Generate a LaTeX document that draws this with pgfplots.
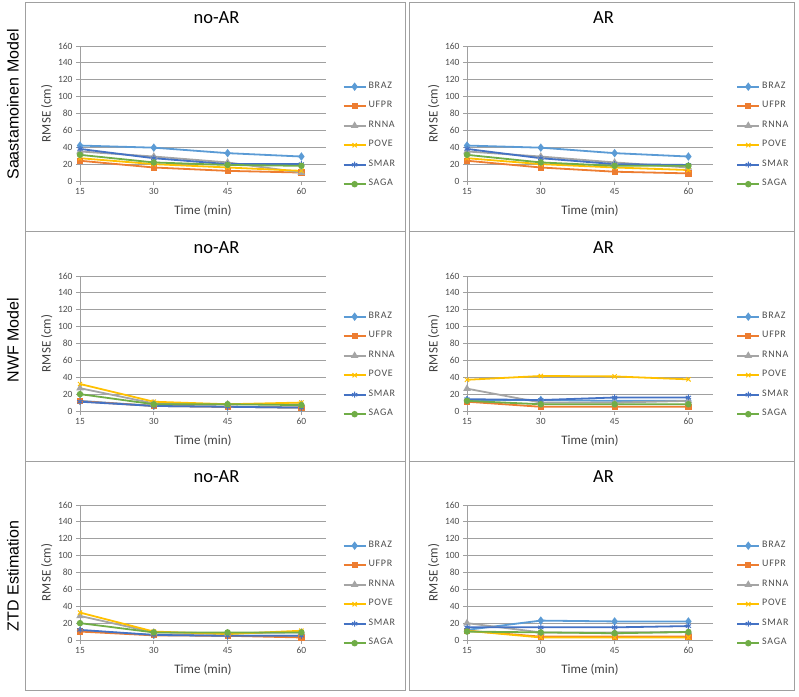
\documentclass[border=0pt]{standalone}
\usepackage{pgfplots}
\pgfplotsset{compat=1.18}
\usepackage{pgfplotstable}
\usepackage{fontspec}
\setmainfont{Carlito}
\newfontfamily\arial{Liberation Sans}

\definecolor{cBRAZ}{HTML}{5B9BD5}
\definecolor{cUFPR}{HTML}{ED7D31}
\definecolor{cRNNA}{HTML}{A5A5A5}
\definecolor{cPOVE}{HTML}{FFC000}
\definecolor{cSMAR}{HTML}{4472C4}
\definecolor{cSAGA}{HTML}{70AD47}
\definecolor{tickgray}{HTML}{4D4D4D}
\definecolor{labgray}{HTML}{404040}
\definecolor{frame}{HTML}{A0A0A0}

% Saastamoinen, no-AR / AR
\pgfplotstableread{
t BRAZ UFPR RNNA POVE SMAR SAGA
15 42 24 35 27 38 31
30 39.5 16 29 20 27 22
45 33 12 22 16 20 19
60 29 10 10 12 20 18
}\tabSaNo
\pgfplotstableread{
t BRAZ UFPR RNNA POVE SMAR SAGA
15 42 24 35 27 38 31
30 39.5 16 29 20 27 22
45 33 11 22 16 20 18
60 29 9 16 13 19 18
}\tabSaAr
% NWF, no-AR / AR
\pgfplotstableread{
t BRAZ UFPR RNNA POVE SMAR SAGA
15 12 11.5 27 32 11 20
30 6 6 9 11 6 8
45 5 5 8 8 5 8
60 4 4 8 10 4 7
}\tabNwNo
\pgfplotstableread{
t BRAZ UFPR RNNA POVE SMAR SAGA
15 13 11 26.5 37 14 12
30 13 5 10 41.5 13 8
45 12 5 10 41 16 8
60 12 5 12 37.5 16 8
}\tabNwAr
% ZTD estimation, no-AR / AR
\pgfplotstableread{
t BRAZ UFPR RNNA POVE SMAR SAGA
15 11 10 28.5 32.5 12 20
30 6 5.5 9 10 6 9
45 5 5 8 7 5 9
60 5 3 9 11 5 9
}\tabZtNo
\pgfplotstableread{
t BRAZ UFPR RNNA POVE SMAR SAGA
15 12 11 20 11 15 10
30 23 4 9 3 15 9
45 22 4 9 3 15 8
60 22 4 9.5 3 16.5 9.5
}\tabZtAr

\pgfplotsset{
  legend image code/.code={%
    \draw[mark repeat=2,mark phase=2,#1] plot coordinates {(0pt,0pt) (11pt,0pt) (22pt,0pt)};},
  panel/.style={
    scale only axis, width=246pt, height=135pt, anchor=south west,
    xmin=15, xmax=65, ymin=0, ymax=160,
    xtick={15,30,45,60}, ytick={0,20,...,160},
    ymajorgrids, grid style={frame, line width=0.8pt},
    axis x line*=bottom, axis y line*=left,
    axis line style={frame, line width=0.8pt, -},
    tick align=outside, major tick length=4pt,
    tick style={frame, line width=0.8pt},
    ticklabel style={font=\fontsize{9.5}{10}\selectfont, text=tickgray},
    /pgf/number format/assume math mode=true,
    xlabel={Time (min)}, ylabel={RMSE (cm)},
    label style={font=\fontsize{13}{14}\selectfont, text=labgray},
    xlabel style={at={(axis description cs:0.5,-0.222)}, anchor=center},
    ylabel style={at={(axis description cs:-0.135,0.5)}, anchor=center},
    title style={at={(axis description cs:0.555,1.163)}, anchor=center,
      font=\fontsize{18.5}{20}\selectfont},
    legend style={draw=none, fill=none, anchor=north west,
      font=\fontsize{10}{11}\selectfont\addfontfeature{LetterSpace=7}, text=tickgray,
      row sep=10pt, nodes={inner sep=0pt, text height=6.5pt, text depth=3pt},
      /tikz/every odd column/.style={column sep=2pt}},
    legend cell align=left,
    every axis plot/.append style={line width=1.8pt, mark size=2.3pt},
  },
}

\newcommand{\series}[1]{%
  \addplot[cBRAZ, mark=diamond*, mark size=2.8pt] table[x=t, y=BRAZ] {#1};
  \addplot[cUFPR, mark=square*, mark size=2.2pt] table[x=t, y=UFPR] {#1};
  \addplot[cRNNA, mark=triangle*, mark size=2.6pt] table[x=t, y=RNNA] {#1};
  \addplot[cPOVE, mark=x, mark size=3pt, mark options={line width=1pt}] table[x=t, y=POVE] {#1};
  \addplot[cSMAR, mark=asterisk, mark size=3pt, mark options={line width=1pt}] table[x=t, y=SMAR] {#1};
  \addplot[cSAGA, mark=*, mark size=2.3pt] table[x=t, y=SAGA] {#1};
  \legend{BRAZ, UFPR, RNNA, POVE, SMAR, SAGA}
}

\begin{document}
\begin{tikzpicture}
\useasboundingbox (0pt,0pt) rectangle (799pt,696pt);

% panel frames
\foreach \r in {0,1,2} {
  \draw[frame, line width=1pt] (25pt,{(693-229*\r)*1pt}) rectangle (405pt,{(464-229*\r)*1pt});
  \draw[frame, line width=1pt] (409pt,{(693-229*\r)*1pt}) rectangle (794pt,{(464-229*\r)*1pt});
}

% row labels
\node[rotate=90, font=\arial\fontsize{16}{18}\selectfont] at (13pt,591.5pt) {Saastamoinen Model};
\node[rotate=90, font=\arial\fontsize{16}{18}\selectfont] at (13pt,356pt) {NWF Model};
\node[rotate=90, font=\arial\fontsize{16}{18}\selectfont] at (13pt,120pt) {ZTD Estimation};

\begin{axis}[panel, at={(80pt,515pt)}, title={no-AR},
  legend style={at={(axis description cs:1.055,0.75)}}]
\series{\tabSaNo}
\end{axis}
\begin{axis}[panel, at={(467pt,515pt)}, title={AR},
  legend style={at={(axis description cs:1.082,0.75)}}]
\series{\tabSaAr}
\end{axis}

\begin{axis}[panel, at={(80pt,285pt)}, title={no-AR},
  legend style={at={(axis description cs:1.055,0.75)}}]
\series{\tabNwNo}
\end{axis}
\begin{axis}[panel, at={(467pt,285pt)}, title={AR},
  legend style={at={(axis description cs:1.082,0.75)}}]
\series{\tabNwAr}
\end{axis}

\begin{axis}[panel, at={(80pt,56pt)}, title={no-AR},
  legend style={at={(axis description cs:1.055,0.75)}}]
\series{\tabZtNo}
\end{axis}
\begin{axis}[panel, at={(467pt,56pt)}, title={AR},
  legend style={at={(axis description cs:1.082,0.75)}}]
\series{\tabZtAr}
\end{axis}
\end{tikzpicture}
\end{document}
